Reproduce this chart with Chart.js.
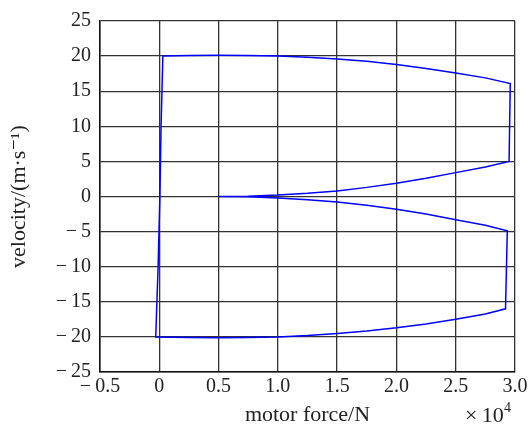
<!DOCTYPE html>
<html lang="en">
<head>
    <meta charset="UTF-8">
    <title>velocity vs motor force</title>
    <script src="https://cdn.jsdelivr.net/npm/chart.js"></script>
    <style>
        html, body { margin: 0; padding: 0; background: #fff; }
        #wrap { width: 531px; height: 428px; }
    </style>
</head>
<body>
    <div id="wrap"><canvas id="forceChart" width="531" height="428"></canvas></div>
    <script>
        // motor force in units of 1e4 N, velocity in m/s
        const accelForce = [0.5, 0.75, 1.0, 1.25, 1.5, 1.75, 2.0, 2.25, 2.5, 2.75, 2.95];
        const accelVel   = [0, 0.05, 0.2, 0.45, 0.8, 1.3, 1.9, 2.6, 3.4, 4.2, 5.0];
        const topForce   = [2.96, 2.75, 2.5, 2.25, 2.0, 1.75, 1.5, 1.25, 1.0, 0.75, 0.5, 0.25, 0.03];
        const topVel     = [16.1, 16.9, 17.6, 18.25, 18.8, 19.25, 19.6, 19.85, 20.0, 20.1, 20.12, 20.1, 20.0];
        const leftForce  = [0.015, 0.005, -0.01, -0.03];
        const leftVel    = [10, 0, -10, -20];
        const bottomForce = [0.25, 0.5, 0.75, 1.0, 1.25, 1.5, 1.75, 2.0, 2.25, 2.5, 2.75, 2.92];
        const bottomVel   = [-20.1, -20.12, -20.1, -20.0, -19.8, -19.5, -19.15, -18.7, -18.15, -17.5, -16.75, -16.0];
        const returnForce = [2.935, 2.75, 2.5, 2.25, 2.0, 1.75, 1.5, 1.25, 1.0, 0.75, 0.5];
        const returnVel   = [-4.9, -4.1, -3.3, -2.5, -1.8, -1.25, -0.8, -0.45, -0.2, -0.05, 0];

        const xTicks = [-0.5, 0, 0.5, 1.0, 1.5, 2.0, 2.5, 3.0];
        const yTicks = [-25, -20, -15, -10, -5, 0, 5, 10, 15, 20, 25];

        // join the segments into one path
        const path = [];
        [[accelForce, accelVel], [topForce, topVel], [leftForce, leftVel],
         [bottomForce, bottomVel], [returnForce, returnVel]].forEach(([fs, vs]) => {
            fs.forEach((f, i) => path.push({ x: f, y: vs[i] }));
        });

        const serif = "'Liberation Serif', 'DejaVu Serif', serif";
        const minus = s => s.replace('-', '\u2212\u2009');

        const exponentLabel = {
            id: 'exponentLabel',
            afterDraw(chart) {
                const ctx = chart.ctx;
                ctx.save();
                ctx.fillStyle = '#222';
                ctx.font = '22px ' + serif;
                ctx.textAlign = 'left';
                ctx.textBaseline = 'alphabetic';
                ctx.fillText('\u00d7\u200910', 465, 422);
                ctx.font = '14px ' + serif;
                ctx.fillText('4', 504, 412);
                ctx.restore();
            }
        };

        new Chart(document.getElementById('forceChart'), {
            type: 'scatter',
            data: {
                datasets: [{
                    data: path,
                    showLine: true,
                    borderColor: '#0000ff',
                    borderWidth: 1.5,
                    pointRadius: 0,
                    tension: 0
                }]
            },
            options: {
                responsive: false,
                animation: false,
                layout: { padding: { left: 0, right: 16, top: 19, bottom: 0 } },
                plugins: { legend: { display: false }, tooltip: { enabled: false } },
                scales: {
                    x: {
                        min: -0.5, max: 3.0,
                        afterBuildTicks: s => { s.ticks = xTicks.map(v => ({ value: v })); },
                        afterFit: s => { s.height = 56; },
                        grid: { color: '#333', lineWidth: 1.3, drawTicks: false },
                        border: { color: '#111', width: 1.5 },
                        ticks: {
                            color: '#222', padding: 3,
                            font: { family: serif, size: 20 },
                            callback: v => v === 0 ? '0' : minus(v.toFixed(1))
                        },
                        title: {
                            display: true, text: 'motor force/N', color: '#222',
                            font: { family: serif, size: 22 }, padding: { top: 4, bottom: 0 }
                        }
                    },
                    y: {
                        min: -25, max: 25,
                        afterBuildTicks: s => { s.ticks = yTicks.map(v => ({ value: v })); },
                        afterFit: s => { s.width = 100; },
                        grid: { color: '#333', lineWidth: 1.3, drawTicks: false },
                        border: { color: '#111', width: 1.5 },
                        ticks: {
                            color: '#222', padding: 9,
                            font: { family: serif, size: 20 },
                            callback: v => minus(String(v))
                        },
                        title: {
                            display: true, text: 'velocity/(m\u00b7s\u207b\u00b9)', color: '#222',
                            font: { family: serif, size: 22 }, padding: { top: 6, bottom: 4 }
                        }
                    }
                }
            },
            plugins: [exponentLabel]
        });
    </script>
</body>
</html>
